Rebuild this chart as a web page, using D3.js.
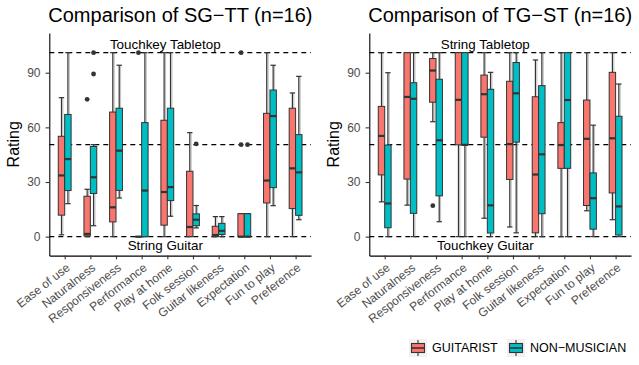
<!DOCTYPE html>
<html>
<head>
<meta charset="utf-8">
<script src="https://cdn.jsdelivr.net/npm/d3@7"></script>
<style>
  body { margin: 0; background: #fff; }
  svg { font-family: "Liberation Sans", Arial, Helvetica, sans-serif; }
</style>
</head>
<body>
<div id="chart"></div>
<script>
const categories = ["Ease of use", "Naturalness", "Responsiveness", "Performance", "Play at home",
  "Folk session", "Guitar likeness", "Expectation", "Fun to play", "Preference"];
const groups = ["GUITARIST", "NON\u2212MUSICIAN"];
const groupColors = ["#F8766D", "#00BFC4"];
const yTicks = [0, 30, 60, 90];
const refLines = [0, 50.5, 101];

// [lower whisker, Q1, median, Q3, upper whisker] per category
const sgttGuitarist = [
  [1, 11.8, 33.6, 55.1, 76.3], [0, 0.4, 1.5, 22.2, 26], [0, 8.1, 16.1, 68.4, 101], [0, 0, 0, 0, 0],
  [0, 6.3, 24.5, 63.9, 101], [0, 0, 5.3, 35.9, 57.1], [0, 0, 0.9, 5.7, 11], [0, 0, 0, 12.6, 12.6],
  [0, 18.5, 30.8, 67.7, 101], [0, 15.4, 37.5, 70.5, 78.9]
];
const sgttNonMusician = [
  [18.1, 25.3, 42.6, 67.1, 101], [6, 23.7, 32.6, 49.5, 50.5], [21.2, 25.4, 47.2, 70.5, 94.1], [0, 0, 25.3, 62.6, 101],
  [11.2, 19.8, 27.2, 70.5, 101], [4.8, 6, 9.3, 12.5, 17.1], [0, 1.2, 3.2, 7.3, 11], [0, 0, 0, 12.6, 12.6],
  [17, 26.9, 66.2, 80.5, 94.1], [9.3, 11.7, 35.3, 56, 88]
];
const sgttGuitaristOut = [[], [75.4], [], [101], [], [], [], [50.5, 101], [], []];
const sgttNonMusicianOut = [[], [89.3, 101], [], [], [], [50.9], [], [50.5], [], []];

const tgstGuitarist = [
  [19.1, 33.9, 55.3, 71.5, 101], [17.3, 31.6, 76.7, 101, 101], [63.1, 73.8, 91.2, 97.8, 101], [0, 50.4, 75.1, 101, 101],
  [10.1, 54.6, 78.2, 88.7, 101], [5.3, 31.4, 50.8, 85.3, 101], [0, 2.1, 34.1, 76.8, 97], [0, 37.5, 50.3, 62.6, 101],
  [14.2, 17.1, 53.7, 75, 101], [9.3, 24, 54, 90.2, 101]
];
const tgstNonMusician = [
  [0, 4.9, 18.2, 50.3, 90], [0, 12.8, 75.7, 84.5, 101], [8.2, 22.4, 52.9, 86.4, 101], [0, 50.4, 50.4, 101, 101],
  [0, 2, 17.2, 80.9, 90.2], [2.1, 51.9, 78.7, 95.6, 101], [0, 12.6, 45.2, 82.9, 101], [0, 37.5, 75, 101, 101],
  [0, 4.1, 21.1, 35, 61.2], [0, 0.9, 16.6, 66.1, 83.8]
];
const tgstGuitaristOut = [[], [], [17], [], [], [], [], [], [], []];
const tgstNonMusicianOut = [[], [], [], [], [], [], [], [], [], []];

const panels = [
  {title: "Comparison of SG\u2212TT (n=16)", top: "Touchkey Tabletop", bottom: "String Guitar",
    stats: [sgttGuitarist, sgttNonMusician], outs: [sgttGuitaristOut, sgttNonMusicianOut], left: 49.3},
  {title: "Comparison of TG\u2212ST (n=16)", top: "String Tabletop", bottom: "Touchkey Guitar",
    stats: [tgstGuitarist, tgstNonMusician], outs: [tgstGuitaristOut, tgstNonMusicianOut], left: 369.3}
];

const width = 639, height = 365;
const panelW = 261.7;
const boxW = 0.25;   // in category units, two dodged boxes per category

const svg = d3.select("#chart").append("svg")
  .attr("width", width)
  .attr("height", height);

const y = d3.scaleLinear()
  .domain([-10.4, 111.8])
  .range([255.6, 33.0]);
const x = d3.scaleLinear()
  .domain([0.4, 10.6])
  .range([0, panelW]);
const bw = x(1 + boxW) - x(1);

panels.forEach(p => {
  const g = svg.append("g").attr("transform", `translate(${p.left},0)`);

  // title
  svg.append("text")
    .attr("x", p.left - 1)
    .attr("y", 22)
    .attr("font-size", 20)
    .attr("fill", "#000")
    .text(p.title);

  // reference dashed lines (behind boxes)
  g.selectAll(".ref")
    .data(refLines)
    .enter().append("line")
    .attr("x1", 0)
    .attr("x2", panelW)
    .attr("y1", d => y(d))
    .attr("y2", d => y(d))
    .attr("stroke", "#000")
    .attr("stroke-width", 1.1)
    .attr("stroke-dasharray", "5,4");

  g.append("text")
    .attr("x", x(4.92))
    .attr("y", y(103.2))
    .attr("text-anchor", "middle")
    .attr("font-size", 13.4)
    .text(p.top);
  g.append("text")
    .attr("x", x(4.92))
    .attr("y", y(-7.4))
    .attr("text-anchor", "middle")
    .attr("font-size", 13.4)
    .text(p.bottom);

  p.stats.forEach((series, gi) => {
    const offset = gi === 0 ? -boxW / 2 : boxW / 2;
    const boxes = g.selectAll(".box" + gi)
      .data(series.map((s, i) => ({s: s, cx: x(i + 1 + offset), out: p.outs[gi][i]})))
      .enter().append("g");

    // whiskers: faint shadow line, main line, caps
    boxes.append("line")
      .attr("x1", d => d.cx + 1.4).attr("x2", d => d.cx + 1.4)
      .attr("y1", d => y(d.s[4])).attr("y2", d => y(d.s[0]))
      .attr("stroke", "#b5b5b5").attr("stroke-width", 0.9);
    boxes.append("line")
      .attr("x1", d => d.cx).attr("x2", d => d.cx)
      .attr("y1", d => y(d.s[4])).attr("y2", d => y(d.s[0]))
      .attr("stroke", "#333").attr("stroke-width", 1.2);
    [0, 4].forEach(k => {
      boxes.append("line")
        .attr("x1", d => d.cx - bw * 0.42).attr("x2", d => d.cx + bw * 0.42)
        .attr("y1", d => y(d.s[k])).attr("y2", d => y(d.s[k]))
        .attr("stroke", "#333").attr("stroke-width", 1.2);
    });

    boxes.append("rect")
      .attr("x", d => d.cx - bw / 2)
      .attr("width", bw)
      .attr("y", d => y(d.s[3]))
      .attr("height", d => Math.max(0.01, y(d.s[1]) - y(d.s[3])))
      .attr("fill", groupColors[gi])
      .attr("stroke", "#333")
      .attr("stroke-width", 1);

    boxes.append("line")
      .attr("x1", d => d.cx - bw / 2).attr("x2", d => d.cx + bw / 2)
      .attr("y1", d => y(d.s[2])).attr("y2", d => y(d.s[2]))
      .attr("stroke", "#333").attr("stroke-width", 2.2);

    boxes.selectAll("circle")
      .data(d => d.out.map(v => ({cx: d.cx, v: v})))
      .enter().append("circle")
      .attr("cx", d => d.cx)
      .attr("cy", d => y(d.v))
      .attr("r", 2.4)
      .attr("fill", "#333");
  });

  // axes
  const yAxis = g.append("g")
    .call(d3.axisLeft(y).tickValues(yTicks).tickSize(3.7).tickSizeOuter(0).tickPadding(5));
  const xAxis = g.append("g")
    .attr("transform", `translate(0,${y(-10.4)})`)
    .call(d3.axisBottom(x).tickValues(d3.range(1, 11)).tickFormat(d => categories[d - 1])
      .tickSize(3.7).tickSizeOuter(0));

  [yAxis, xAxis].forEach(a => {
    a.select(".domain").attr("stroke", "#000").attr("stroke-width", 1.1);
    a.selectAll(".tick line").attr("stroke", "#333").attr("stroke-width", 1.1);
    a.selectAll(".tick text").attr("fill", "#4d4d4d").attr("font-family", null);
  });
  yAxis.attr("font-size", 12);
  yAxis.selectAll(".tick text").attr("x", -8.8);
  xAxis.attr("font-size", 12);
  xAxis.selectAll(".tick text")
    .attr("x", 0).attr("y", 0).attr("dy", 0)
    .attr("text-anchor", "end")
    .attr("transform", "translate(5.5,13.6) rotate(-38)");

  svg.append("text")
    .attr("transform", `translate(${p.left - 30},${(y(-10.4) + y(111.8)) / 2}) rotate(-90)`)
    .attr("text-anchor", "middle")
    .attr("font-size", 16)
    .text("Rating");
});

// legend
const legendX = [409, 507];
const legend = svg.append("g");
groups.forEach((name, i) => {
  const lg = legend.append("g").attr("transform", `translate(${legendX[i]},339)`);
  lg.append("rect").attr("width", 18).attr("height", 18).attr("fill", "#f2f2f2");
  lg.append("line").attr("x1", 9).attr("x2", 9).attr("y1", 1).attr("y2", 17)
    .attr("stroke", "#333").attr("stroke-width", 1.1);
  lg.append("rect").attr("x", 2.5).attr("y", 4.5).attr("width", 13).attr("height", 9)
    .attr("fill", groupColors[i]).attr("stroke", "#333").attr("stroke-width", 1.1);
  lg.append("line").attr("x1", 2.5).attr("x2", 15.5).attr("y1", 9).attr("y2", 9)
    .attr("stroke", "#333").attr("stroke-width", 1.6);
  lg.append("text").attr("x", 23).attr("y", 9).attr("dy", "0.35em")
    .attr("font-size", 12.5).text(name);
});
</script>
</body>
</html>
